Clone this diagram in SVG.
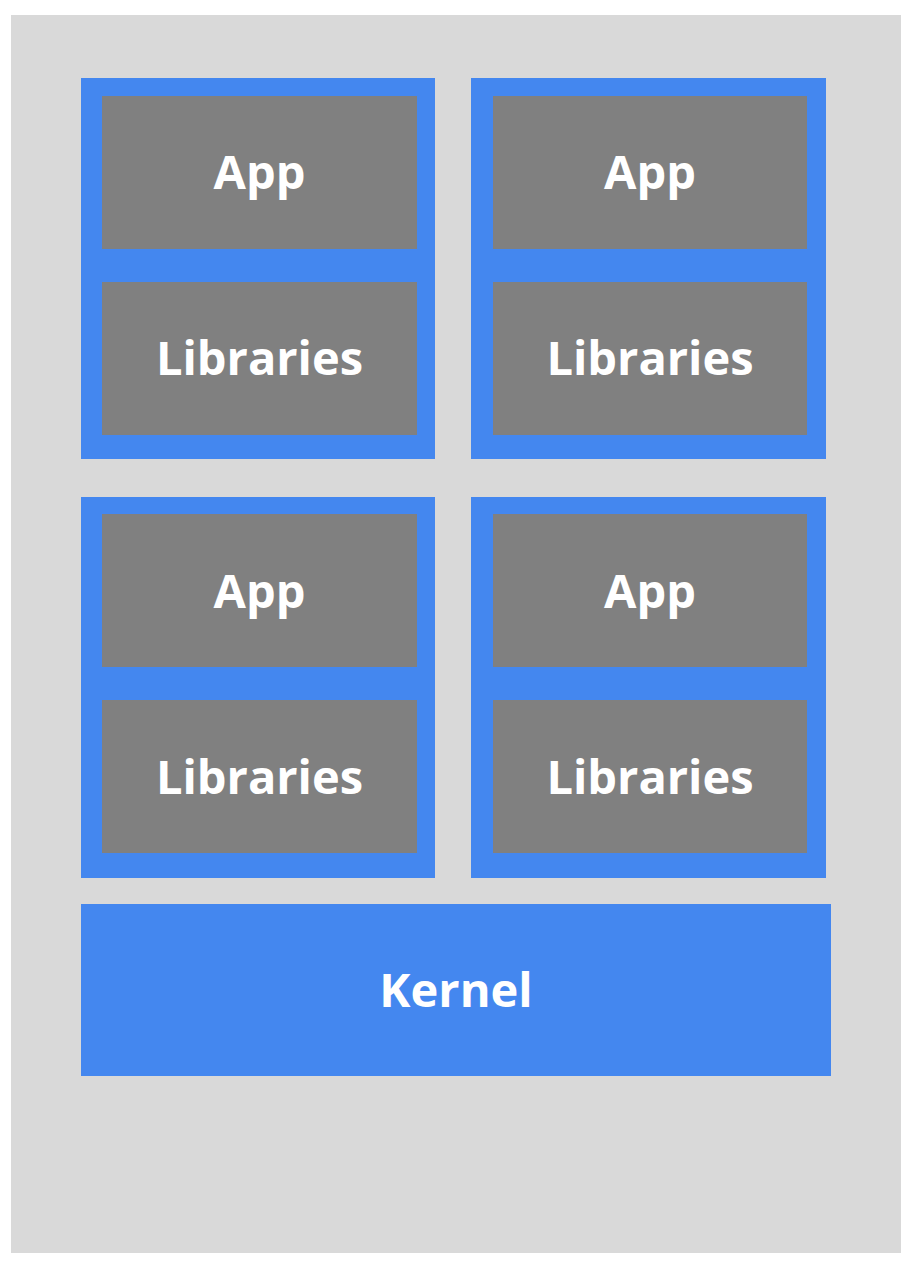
<svg xmlns="http://www.w3.org/2000/svg" width="912" height="1266" viewBox="0 0 912 1266">
  <style>
    .frame { fill: #4487ef; }
    .layer { fill: #808080; }
    .label { fill: #ffffff; font-family: "Open Sans", "Liberation Sans", sans-serif; font-weight: 700; font-size: 47px; text-anchor: middle; }
  </style>
  <rect x="0" y="0" width="912" height="1266" fill="#ffffff"/>
  <rect id="host" x="11" y="15" width="890" height="1238" fill="#d9d9d9"/>

  <g id="container-1">
    <rect class="frame" x="81" y="78" width="354" height="381"/>
    <rect class="layer" x="102" y="96" width="315" height="153"/>
    <text class="label" x="259.5" y="189">App</text>
    <rect class="layer" x="102" y="282" width="315" height="153"/>
    <text class="label" x="259.5" y="375">Libraries</text>
  </g>

  <g id="container-2">
    <rect class="frame" x="471" y="78" width="355" height="381"/>
    <rect class="layer" x="493" y="96" width="314" height="153"/>
    <text class="label" x="650" y="189">App</text>
    <rect class="layer" x="493" y="282" width="314" height="153"/>
    <text class="label" x="650" y="375">Libraries</text>
  </g>

  <g id="container-3">
    <rect class="frame" x="81" y="497" width="354" height="381"/>
    <rect class="layer" x="102" y="514" width="315" height="153"/>
    <text class="label" x="259.5" y="608">App</text>
    <rect class="layer" x="102" y="700" width="315" height="153"/>
    <text class="label" x="259.5" y="794">Libraries</text>
  </g>

  <g id="container-4">
    <rect class="frame" x="471" y="497" width="355" height="381"/>
    <rect class="layer" x="493" y="514" width="314" height="153"/>
    <text class="label" x="650" y="608">App</text>
    <rect class="layer" x="493" y="700" width="314" height="153"/>
    <text class="label" x="650" y="794">Libraries</text>
  </g>

  <g id="kernel">
    <rect class="frame" x="81" y="904" width="750" height="172"/>
    <text class="label" x="456" y="1007">Kernel</text>
  </g>

  <g id="connectors"/>
</svg>
